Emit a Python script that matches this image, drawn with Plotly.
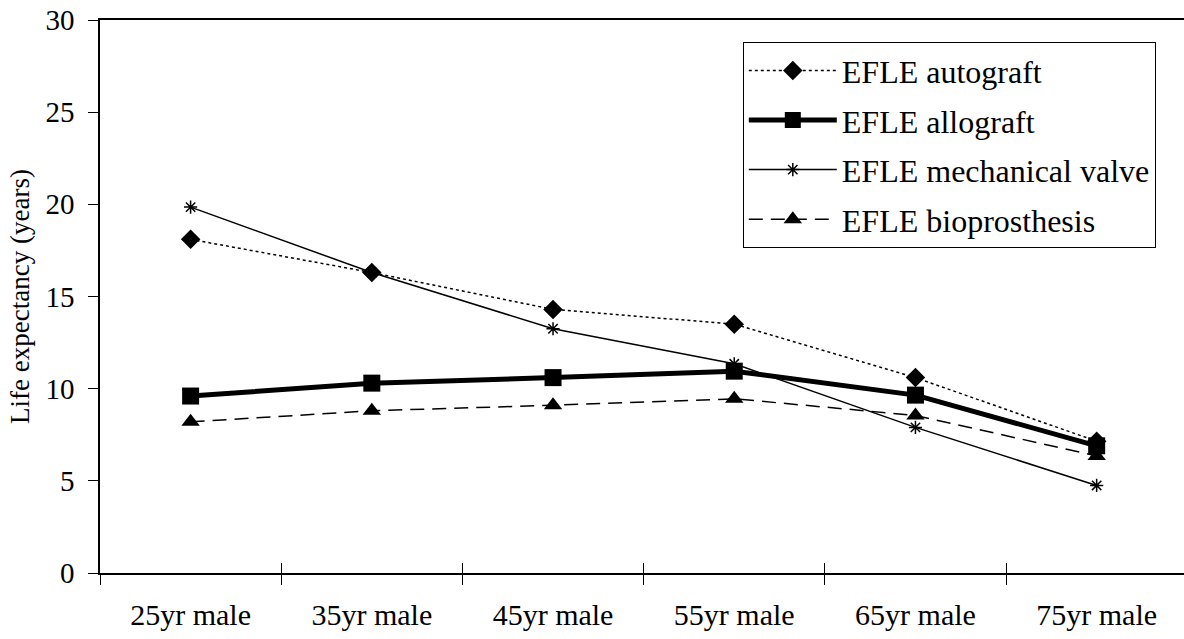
import plotly.graph_objects as go

categories = ["25yr male", "35yr male", "45yr male", "55yr male", "65yr male", "75yr male"]
autograft = [18.1, 16.3, 14.3, 13.5, 10.6, 7.15]
allograft = [9.6, 10.3, 10.6, 10.95, 9.65, 6.9]
mechanical = [19.85, 16.3, 13.25, 11.35, 7.9, 4.75]
bioprosthesis = [8.2, 8.8, 9.1, 9.45, 8.55, 6.35]
y_ticks = [0, 5, 10, 15, 20, 25, 30]

FONT = "Times New Roman, Liberation Serif, serif"

fig = go.Figure()
fig.add_trace(go.Scatter(
    x=categories, y=autograft, name="EFLE autograft", mode="lines+markers",
    line=dict(color="black", width=1.5, dash="dot"),
    marker=dict(symbol="diamond", size=15, color="black"), legendgroup="a"))
fig.add_trace(go.Scatter(
    x=categories, y=allograft, name="EFLE allograft", mode="lines+markers",
    line=dict(color="black", width=5),
    marker=dict(symbol="square", size=17, color="black"), legendgroup="b"))
fig.add_trace(go.Scatter(
    x=categories, y=mechanical, name="EFLE mechanical valve", mode="lines+markers",
    line=dict(color="black", width=1.5),
    marker=dict(symbol="asterisk-open", size=11, color="black", line=dict(width=1.5, color="black")),
    legendgroup="c"))
fig.add_trace(go.Scatter(
    x=categories, y=bioprosthesis, name="EFLE bioprosthesis", mode="lines+markers",
    line=dict(color="black", width=1.5, dash="14px,8px"),
    marker=dict(symbol="triangle-up", size=16, color="black"), legendgroup="d"))
# invisible helper trace to give the overlay axis its categories
fig.add_trace(go.Scatter(x=categories, y=autograft, xaxis="x2", mode="markers",
                         marker=dict(opacity=0), showlegend=False, hoverinfo="skip"))

xr = [-0.5, 5.482]
fig.update_layout(
    width=1184, height=639,
    margin=dict(l=100, r=0, t=20, b=66),
    paper_bgcolor="white", plot_bgcolor="white",
    font=dict(family=FONT, size=29, color="black"),
    showlegend=True,
    legend=dict(x=0.593, y=0.96, xanchor="left", yanchor="top",
                bordercolor="black", borderwidth=1, bgcolor="white",
                font=dict(family=FONT, size=32, color="black"),
                tracegroupgap=5, itemwidth=88),
    xaxis=dict(type="category", categoryorder="array", categoryarray=categories,
               range=xr, showline=True, linecolor="black", linewidth=1.5,
               mirror=True, ticks="outside", ticklen=10, tickcolor="black",
               tickwidth=1, tickson="boundaries", showgrid=False, zeroline=False,
               ticklabelstandoff=14,
               tickfont=dict(family=FONT, size=30, color="black")),
    xaxis2=dict(type="category", categoryorder="array", categoryarray=categories,
                range=xr, overlaying="x", anchor="y", side="bottom",
                ticks="inside", ticklen=10, tickcolor="black", tickwidth=1,
                tickson="boundaries", showticklabels=False, showline=False,
                showgrid=False, zeroline=False),
    yaxis=dict(range=[0, 30], tickvals=y_ticks, showline=True, linecolor="black",
               linewidth=1.5, ticks="outside", ticklen=10, tickcolor="black",
               tickwidth=1, showgrid=False, zeroline=False, ticklabelstandoff=8,
               title=dict(text="Life expectancy (years)", standoff=8,
                          font=dict(family=FONT, size=27, color="black")),
               tickfont=dict(family=FONT, size=29, color="black")),
)

fig.write_html("out.html")
